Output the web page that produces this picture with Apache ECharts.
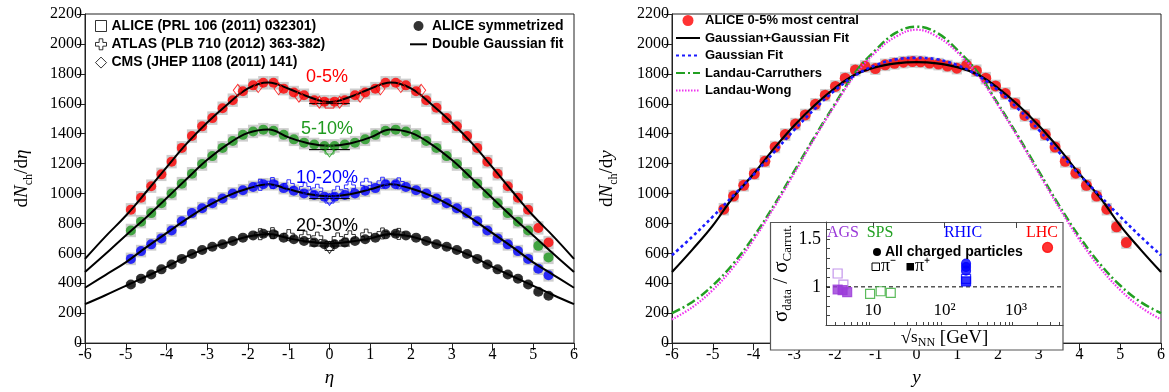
<!DOCTYPE html>
<html><head><meta charset="utf-8">
<script src="https://cdn.jsdelivr.net/npm/echarts@6/dist/echarts.min.js"></script>
<style>html,body{margin:0;padding:0;background:#fff}#c{width:1169px;height:392px}</style>
</head><body><div id="c"></div>
<script>
// ---------------- LEFT PANEL DATA: dNch/deta ----------------
const etaSym = [-4.875,-4.625,-4.375,-4.125,-3.875,-3.625,-3.375,-3.125,-2.875,-2.625,-2.375,-2.125,-1.875,-1.625,-1.375,-1.125,-0.875,-0.625,-0.375,-0.125,
  0.125,0.375,0.625,0.875,1.125,1.375,1.625,1.875,2.125,2.375,2.625,2.875,3.125,3.375,3.625,3.875,4.125,4.375,4.625,4.875,5.125,5.375];
const sym0_5 = [891,972,1049,1128,1213,1305,1384,1449,1504,1570,1624,1683,1723,1740,1740,1701,1675,1657,1624,1614,
  1614,1624,1657,1675,1701,1740,1740,1723,1683,1624,1574,1504,1449,1384,1305,1213,1132,1049,972,891,770,672];
const sym5_10 = [753,812,869,935,1000,1066,1132,1197,1250,1305,1351,1392,1415,1427,1420,1392,1362,1340,1328,1318,
  1318,1328,1340,1362,1392,1420,1427,1415,1392,1351,1305,1250,1197,1132,1066,1000,935,869,812,753,650,573];
const sym10_20 = [563,615,660,700,753,814,869,902,935,967,1000,1022,1044,1062,1062,1036,1018,1000,990,979,
  979,990,1000,1018,1036,1062,1062,1044,1022,1000,967,935,902,869,814,753,700,660,615,563,497,453];
const sym20_30 = [392,431,458,493,525,563,596,622,644,661,683,705,720,731,727,705,694,683,672,661,
  661,672,683,694,705,727,731,720,705,683,661,644,622,596,563,525,493,458,431,392,343,317];

const fitEta = [-6,-5.5,-5,-4.5,-4,-3.5,-3,-2.5,-2,-1.5,-1,-0.5,0,0.5,1,1.5,2,2.5,3,3.5,4,4.5,5,5.5,6];
const fit0_5 = [563,712,851,1010,1175,1335,1475,1597,1703,1742,1700,1645,1612,1645,1700,1742,1703,1597,1475,1335,1175,1010,851,712,563];
const fit5_10 = [475,595,720,840,968,1099,1225,1329,1405,1428,1375,1335,1320,1335,1375,1428,1405,1329,1225,1099,968,840,720,595,475];
const fit10_20 = [370,455,540,640,735,830,915,984,1033,1062,1028,995,982,995,1028,1062,1033,984,915,830,735,640,540,455,370];
const fit20_30 = [260,320,383,445,509,580,633,672,712,729,700,678,665,678,700,729,712,672,633,580,509,445,383,320,260];

// ALICE PRL 106 (|eta|<0.5)
const alicePrlEta = [0, 0, 0, 0];
const alicePrlVal = [1601, 1294, 966, 649];
const alicePrlHalfBin = 0.5;
// CMS 0-5% and central points
const cmsEta0_5 = [-2.25,-1.75,-1.25,-0.75,-0.25,0.25,0.75,1.25,1.75,2.25];
const cmsVal0_5 = [1690,1715,1700,1650,1610,1610,1650,1700,1715,1690];
const cmsEtaC = [0, 0, 0];
const cmsValC = [1285, 960, 640];
// ATLAS
const atlasEta = [-1.7,-1.4,-1.0,-0.6,-0.3,0.2,0.5,0.9,1.3,1.7];
const atlas10_20 = [1058,1070,1055,1035,1025,1012,1045,1065,1072,1068];
const atlas20_30 = [728,735,722,712,705,700,714,725,733,730];
const sysErrLeft = [45, 45, 42, 18];
const binW = 0.25;

// ---------------- RIGHT PANEL DATA: dNch/dy ----------------
const yRap = [-4.73,-4.49,-4.24,-3.98,-3.72,-3.47,-3.22,-2.97,-2.73,-2.48,-2.24,-1.99,-1.75,-1.50,-1.26,-1.01,-0.77,-0.54,-0.32,-0.10,
  0.10,0.32,0.54,0.76,0.99,1.23,1.47,1.70,1.94,2.18,2.42,2.66,2.91,3.16,3.40,3.65,3.91,4.17,4.42,4.67,4.91,5.15];
const dndy = [895,983,1055,1132,1215,1311,1394,1464,1525,1596,1657,1716,1771,1825,1850,1835,1860,1870,1878,1882,
  1880,1872,1865,1852,1838,1858,1821,1771,1719,1668,1602,1522,1464,1394,1311,1215,1136,1055,983,895,777,672];
const sysErrRight = 42;
const fitY = [-6,-5.5,-5,-4.5,-4,-3.5,-3,-2.5,-2,-1.5,-1,-0.5,0,0.5,1,1.5,2,2.5,3,3.5,4,4.5,5,5.5,6];
const fitGG = [475,625,785,975,1130,1300,1455,1590,1705,1795,1845,1870,1878,1870,1845,1795,1705,1590,1455,1300,1130,975,785,625,475];
const fitG = [587,712,845,985,1125,1275,1425,1565,1690,1790,1858,1897,1907,1897,1858,1790,1690,1565,1425,1275,1125,985,845,712,587];
const fitLC = [200,275,385,530,710,920,1150,1380,1600,1810,1960,2075,2115,2075,1960,1810,1600,1380,1150,920,710,530,385,275,200];
const fitLW = [158,240,355,505,690,905,1135,1370,1590,1795,1945,2050,2095,2050,1945,1795,1590,1370,1135,905,690,505,355,240,158];

// ---------------- INSET DATA: sigma_data / sigma_Carruthers ----------------
const agsPimE = [3.2, 3.85];      const agsPimR = [1.14, 1.024];
const agsPipE = [3.2, 3.75, 4.35]; const agsPipR = [0.972, 0.965, 0.944];
const spsPimE = [9.1, 12.8, 17.7]; const spsPimR = [0.927, 0.954, 0.937];
const rhicChE = [200, 200, 200];   const rhicChR = [1.243, 1.208, 1.17];
const rhicPimE = [200];            const rhicPimR = [1.083];
const rhicPipE = [200];            const rhicPipR = [1.058];
const lhcChE = [2760];             const lhcChR = [1.413];
const insetEMin = 2.2, insetEMax = 4540;
const insetMajor = [10, 100, 1000];
const insetMinor = [3,4,5,6,7,8,9,20,30,40,50,60,70,80,90,200,300,400,500,600,700,800,900,2000,3000,4000];
const insetYTicks = [0.7,0.8,0.9,1.0,1.1,1.2,1.3,1.4,1.5,1.6];

// ---------------- helpers ----------------
const SERIF = 'Liberation Serif', SANS = 'Liberation Sans';
const RED = '#ff0000', GREEN = '#1f9a1f', BLUE = '#0000ff', BLACK = '#000000', GRAY = '#cdcdcd';
const PURPLE = '#9a3ad8', PURPLE_L = '#b47ae6';
const pts = (xs, ys) => xs.map((x, i) => [x, ys[i]]);
const lg = v => Math.log10(v);
const lpts = (es, rs) => es.map((e, i) => [lg(e), rs[i]]);
const CROSS = 'path://M4,0H8V4H12V8H8V12H4V8H0V4H4Z';

function renderBox(params, api) {
  const x = api.value(0), y = api.value(1), e = api.value(2), w = api.value(3);
  const p1 = api.coord([x - w / 2, y + e]);
  const p2 = api.coord([x + w / 2, y - e]);
  return { type: 'rect', shape: { x: p1[0], y: p1[1], width: p2[0] - p1[0], height: p2[1] - p1[1] }, style: { fill: GRAY } };
}
function renderHBar(params, api) {
  const x = api.value(0), y = api.value(1), w = api.value(2);
  const p1 = api.coord([x - w, y]), p2 = api.coord([x + w, y]);
  return { type: 'line', shape: { x1: p1[0], y1: p1[1], x2: p2[0], y2: p2[1] }, style: { stroke: '#000', lineWidth: 1 } };
}
function boxSeries(name, xi, xs, ys, err, w) {
  return { name, type: 'custom', xAxisIndex: xi, yAxisIndex: xi, z: 1, silent: true,
    dimensions: ['x', 'y', 'e', 'w'], encode: { x: 0, y: 1 },
    renderItem: renderBox, data: xs.map((x, i) => [x, ys[i], err, w]) };
}
function symScatter(name, ys, color) {
  return { name, type: 'scatter', xAxisIndex: 0, yAxisIndex: 0, z: 3, symbol: 'circle', symbolSize: 10,
    itemStyle: { color }, data: pts(etaSym, ys) };
}
function fitLine(name, xi, xs, ys, color, width, type) {
  return { name, type: 'line', xAxisIndex: xi, yAxisIndex: xi, z: 4, smooth: 0.4, symbol: 'none',
    lineStyle: { color, width, type }, itemStyle: { color }, data: pts(xs, ys) };
}
function openScatter(name, xs, ys, color, symbol, size) {
  return { name, type: 'scatter', xAxisIndex: 0, yAxisIndex: 0, z: 5, symbol, symbolSize: size,
    itemStyle: { color: 'rgba(255,255,255,0)', borderColor: color, borderWidth: 1 }, data: pts(xs, ys) };
}
function insetScatter(name, es, rs, symbol, size, fill, border) {
  return { name, type: 'scatter', xAxisIndex: 2, yAxisIndex: 2, z: 30, symbol, symbolSize: size,
    itemStyle: { color: fill, borderColor: border, borderWidth: 1.2 }, data: lpts(es, rs) };
}

const tickLab = { fontFamily: SERIF, fontSize: 16, color: '#000', formatter: v => String(v) };
const axisLine = { show: true, onZero: false, lineStyle: { color: '#222', width: 1 } };
function mainX(gi, nm) {
  return { type: 'value', gridIndex: gi, min: -6, max: 6, interval: 1,
    axisLine, axisTick: { show: true, inside: false, length: 7, lineStyle: { color: '#222' } },
    axisLabel: { ...tickLab, margin: 4 }, splitLine: { show: false },
    name: nm, nameLocation: 'middle', nameGap: 21,
    nameTextStyle: { fontFamily: SERIF, fontStyle: 'italic', fontSize: 19, color: '#000' } };
}
function mainY(gi, nm, gap) {
  return { type: 'value', gridIndex: gi, min: 0, max: 2200, interval: 200,
    axisLine, axisTick: { show: true, inside: false, length: 8, lineStyle: { color: '#222' } },
    axisLabel: { ...tickLab, margin: 3 }, splitLine: { show: false },
    name: nm, nameLocation: 'middle', nameRotate: 90, nameGap: gap,
    nameTextStyle: { color: '#000', rich: {
      r: { fontFamily: SERIF, fontSize: 19, lineHeight: 26 },
      i: { fontFamily: SERIF, fontSize: 19, fontStyle: 'italic', lineHeight: 26 },
      s: { fontFamily: SERIF, fontSize: 12, lineHeight: 14, verticalAlign: 'bottom' } } } };
}

const legendText = (fs, lh) => ({ fontFamily: SANS, fontWeight: 'bold', fontSize: fs, lineHeight: lh, color: '#000' });
const openLegendStyle = { color: '#fff', borderColor: '#000', borderWidth: 1 };
const lineOnly = { opacity: 0 };

const option = {
  backgroundColor: '#fff',
  animation: false,
  grid: [
    { left: 85, top: 14, width: 489, height: 336, show: true, borderColor: '#222', borderWidth: 1, backgroundColor: 'transparent' },
    { left: 672, top: 14, width: 489, height: 336, show: true, borderColor: '#222', borderWidth: 1, backgroundColor: 'transparent' },
    { left: 826, top: 222, width: 237, height: 103, show: false, z: 20 }
  ],
  xAxis: [
    mainX(0, 'η'),
    mainX(1, 'y'),
    { type: 'value', gridIndex: 2, min: lg(insetEMin), max: lg(insetEMax), z: 20,
      axisLine: { show: true, onZero: false, lineStyle: { color: '#444', width: 1 } },
      axisTick: { show: true, inside: true, length: 3, customValues: insetMinor.map(lg), lineStyle: { color: '#444' } },
      axisLabel: { inside: true, margin: 6, fontFamily: SERIF, fontSize: 17, color: '#000',
        customValues: insetMajor.map(lg),
        formatter: v => ({ 1: '10', 2: '10²', 3: '10³' })[Math.round(v)] },
      splitLine: { show: false },
      name: '{r|√}{o|s}{s|NN}{r| [GeV]}', nameLocation: 'middle', nameGap: 2,
      nameTextStyle: { color: '#000', rich: {
        r: { fontFamily: SERIF, fontSize: 19, lineHeight: 22 },
        o: { fontFamily: SERIF, fontSize: 17, lineHeight: 22 },
        s: { fontFamily: SERIF, fontSize: 12, lineHeight: 12, verticalAlign: 'bottom' } } } },
    { type: 'value', gridIndex: 2, min: lg(insetEMin), max: lg(insetEMax), z: 20,
      axisLine: { show: false, onZero: false },
      axisTick: { show: true, inside: true, length: 6, customValues: insetMajor.map(lg), lineStyle: { color: '#444' } },
      axisLabel: { show: false }, splitLine: { show: false } }
  ],
  yAxis: [
    mainY(0, '{r|d}{i|N}{s|ch}{r|/d}{i|η}', 50),
    mainY(1, '{r|d}{i|N}{s|ch}{r|/d}{i|y}', 52),
    { type: 'value', gridIndex: 2, min: 0.6, max: 1.68, z: 20,
      axisLine: { show: true, onZero: false, lineStyle: { color: '#444', width: 1 } },
      axisTick: { show: true, inside: true, length: 4, customValues: insetYTicks, lineStyle: { color: '#444' } },
      axisLabel: { fontFamily: SERIF, fontSize: 18, color: '#000', margin: 5, customValues: [1, 1.5], formatter: v => String(v) },
      splitLine: { show: false },
      name: '{g|σ}{s|data}{g| / σ}{s|Carrut.}', nameLocation: 'middle', nameRotate: 90, nameGap: 32,
      nameTextStyle: { color: '#000', rich: {
        g: { fontFamily: SERIF, fontSize: 21, lineHeight: 26 },
        s: { fontFamily: SERIF, fontSize: 13, lineHeight: 14, verticalAlign: 'bottom' } } } }
  ],
  legend: [
    { orient: 'vertical', left: 95, top: 18, padding: 0, itemGap: 2.3, itemWidth: 11, itemHeight: 11,
      selectedMode: false, textStyle: legendText(14, 16),
      data: [
        { name: 'ALICE (PRL 106 (2011) 032301)', icon: 'rect', itemStyle: openLegendStyle },
        { name: 'ATLAS (PLB 710 (2012) 363-382)', icon: CROSS, itemStyle: openLegendStyle },
        { name: 'CMS (JHEP 1108 (2011) 141)', icon: 'diamond', itemStyle: openLegendStyle }
      ] },
    { orient: 'vertical', left: 409, top: 18, padding: 0, itemGap: 2.3, itemWidth: 17, itemHeight: 10,
      selectedMode: false, textStyle: legendText(14, 16),
      data: ['ALICE symmetrized', { name: 'Double Gaussian fit', itemStyle: lineOnly }] },
    { orient: 'vertical', left: 675, top: 13, padding: 0, itemGap: 2.5, itemWidth: 24, itemHeight: 11,
      selectedMode: false, textStyle: legendText(13, 15),
      data: ['ALICE 0-5% most central',
        { name: 'Gaussian+Gaussian Fit', itemStyle: lineOnly },
        { name: 'Gaussian Fit', itemStyle: lineOnly },
        { name: 'Landau-Carruthers', itemStyle: lineOnly },
        { name: 'Landau-Wong', itemStyle: lineOnly }] }
  ],
  series: [
    // legend-only entries (left panel)
    { name: 'ALICE (PRL 106 (2011) 032301)', type: 'scatter', symbol: 'rect', itemStyle: openLegendStyle, data: [] },
    { name: 'ATLAS (PLB 710 (2012) 363-382)', type: 'scatter', symbol: CROSS, itemStyle: openLegendStyle, data: [] },
    { name: 'CMS (JHEP 1108 (2011) 141)', type: 'scatter', symbol: 'diamond', itemStyle: openLegendStyle, data: [] },
    { name: 'ALICE symmetrized', type: 'scatter', symbol: 'circle', itemStyle: { color: BLACK }, data: [] },
    { name: 'Double Gaussian fit', type: 'line', symbol: 'none', lineStyle: { color: BLACK, width: 2 }, itemStyle: { color: BLACK }, data: [] },

    // left panel systematic boxes
    boxSeries('sys 0-5', 0, etaSym, sym0_5, sysErrLeft[0], binW),
    boxSeries('sys 5-10', 0, etaSym, sym5_10, sysErrLeft[1], binW),
    boxSeries('sys 10-20', 0, etaSym, sym10_20, sysErrLeft[2], binW),
    boxSeries('sys 20-30', 0, etaSym, sym20_30, sysErrLeft[3], binW),
    // left panel data
    symScatter('sym 0-5', sym0_5, RED),
    symScatter('sym 5-10', sym5_10, GREEN),
    symScatter('sym 10-20', sym10_20, BLUE),
    symScatter('sym 20-30', sym20_30, BLACK),
    fitLine('fit 0-5', 0, fitEta, fit0_5, BLACK, 2, 'solid'),
    fitLine('fit 5-10', 0, fitEta, fit5_10, BLACK, 2, 'solid'),
    fitLine('fit 10-20', 0, fitEta, fit10_20, BLACK, 2, 'solid'),
    fitLine('fit 20-30', 0, fitEta, fit20_30, BLACK, 2, 'solid'),
    openScatter('CMS 0-5', cmsEta0_5, cmsVal0_5, RED, 'diamond', [9, 12]),
    openScatter('CMS 5-10', [cmsEtaC[0]], [cmsValC[0]], GREEN, 'diamond', [9, 12]),
    openScatter('CMS 10-20', [cmsEtaC[1]], [cmsValC[1]], BLUE, 'diamond', [9, 12]),
    openScatter('CMS 20-30', [cmsEtaC[2]], [cmsValC[2]], BLACK, 'diamond', [9, 12]),
    openScatter('ATLAS 10-20', atlasEta, atlas10_20, BLUE, CROSS, 11),
    openScatter('ATLAS 20-30', atlasEta, atlas20_30, BLACK, CROSS, 11),
    { name: 'ALICE PRL bars', type: 'custom', xAxisIndex: 0, yAxisIndex: 0, z: 5, silent: true,
      dimensions: ['x', 'y', 'w'], encode: { x: 0, y: 1 }, renderItem: renderHBar,
      data: alicePrlEta.map((x, i) => [x, alicePrlVal[i], alicePrlHalfBin]) },
    openScatter('ALICE PRL 0-5', [alicePrlEta[0]], [alicePrlVal[0]], RED, 'rect', 9),
    openScatter('ALICE PRL 5-10', [alicePrlEta[1]], [alicePrlVal[1]], GREEN, 'rect', 9),
    openScatter('ALICE PRL 10-20', [alicePrlEta[2]], [alicePrlVal[2]], BLUE, 'rect', 9),
    openScatter('ALICE PRL 20-30', [alicePrlEta[3]], [alicePrlVal[3]], BLACK, 'rect', 9),

    // right panel
    boxSeries('sys dndy', 1, yRap, dndy, sysErrRight, binW),
    { name: 'ALICE 0-5% most central', type: 'scatter', xAxisIndex: 1, yAxisIndex: 1, z: 3, symbol: 'circle', symbolSize: 11,
      itemStyle: { color: RED }, data: pts(yRap, dndy) },
    fitLine('Landau-Carruthers', 1, fitY, fitLC, '#22a022', 2.5, [9, 3, 2, 3]),
    fitLine('Landau-Wong', 1, fitY, fitLW, '#ee33ee', 2.2, [1.5, 1.5]),
    fitLine('Gaussian+Gaussian Fit', 1, fitY, fitGG, BLACK, 2.2, 'solid'),
    fitLine('Gaussian Fit', 1, fitY, fitG, '#1a1aff', 2.6, [3, 3]),

    // inset
    { name: 'ratio one', type: 'line', xAxisIndex: 2, yAxisIndex: 2, z: 25, symbol: 'none',
      lineStyle: { color: '#000', width: 1, type: [4, 3] }, data: [[lg(insetEMin), 1], [lg(insetEMax), 1]] },
    insetScatter('AGS pi-', agsPimE, agsPimR, 'rect', 9, '#fff', PURPLE_L),
    insetScatter('AGS pi+', agsPipE, agsPipR, 'rect', 9, PURPLE, PURPLE),
    insetScatter('SPS pi-', spsPimE, spsPimR, 'rect', 9, '#fff', '#33aa33'),
    insetScatter('RHIC pi-', rhicPimE, rhicPimR, 'rect', 9, '#fff', BLUE),
    insetScatter('RHIC pi+', rhicPipE, rhicPipR, 'rect', 9, BLUE, BLUE),
    insetScatter('RHIC ch', rhicChE, rhicChR, 'circle', 9, BLUE, BLUE),
    insetScatter('LHC ch', lhcChE, lhcChR, 'circle', 10, RED, RED)
  ],
  graphic: { elements: [
    { type: 'text', z: 10, style: { text: '0-5%', x: 327, y: 77, align: 'center', verticalAlign: 'middle', fill: RED, font: '18px "Liberation Sans"' } },
    { type: 'text', z: 10, style: { text: '5-10%', x: 327, y: 129, align: 'center', verticalAlign: 'middle', fill: GREEN, font: '18px "Liberation Sans"' } },
    { type: 'text', z: 10, style: { text: '10-20%', x: 327, y: 178, align: 'center', verticalAlign: 'middle', fill: BLUE, font: '18px "Liberation Sans"' } },
    { type: 'text', z: 10, style: { text: '20-30%', x: 327, y: 226, align: 'center', verticalAlign: 'middle', fill: BLACK, font: '18px "Liberation Sans"' } },
    // inset frame
    { type: 'rect', z: 10, shape: { x: 770.5, y: 222.5, width: 292.5, height: 127.5 }, style: { fill: '#fff', stroke: '#555', lineWidth: 1.2 } },
    { type: 'text', z: 40, style: { text: 'AGS', x: 843, y: 233, align: 'center', verticalAlign: 'middle', fill: PURPLE, font: '16px "Liberation Serif"' } },
    { type: 'text', z: 40, style: { text: 'SPS', x: 880, y: 233, align: 'center', verticalAlign: 'middle', fill: '#22a022', font: '16px "Liberation Serif"' } },
    { type: 'text', z: 40, style: { text: 'RHIC', x: 963, y: 233, align: 'center', verticalAlign: 'middle', fill: BLUE, font: '16px "Liberation Serif"' } },
    { type: 'text', z: 40, style: { text: 'LHC', x: 1042, y: 233, align: 'center', verticalAlign: 'middle', fill: RED, font: '16px "Liberation Serif"' } },
    { type: 'circle', z: 40, shape: { cx: 877, cy: 252, r: 4 }, style: { fill: '#000' } },
    { type: 'text', z: 40, style: { text: 'All charged particles', x: 885, y: 252, align: 'left', verticalAlign: 'middle', fill: '#000', font: 'bold 14px "Liberation Sans"' } },
    { type: 'rect', z: 40, shape: { x: 872, y: 263, width: 7.5, height: 7.5 }, style: { fill: '#fff', stroke: '#000', lineWidth: 1 } },
    { type: 'text', z: 40, style: { text: 'π⁻', x: 881, y: 266, align: 'left', verticalAlign: 'middle', fill: '#000', font: '18px "Liberation Serif"' } },
    { type: 'rect', z: 40, shape: { x: 906.5, y: 263, width: 7.5, height: 7.5 }, style: { fill: '#000' } },
    { type: 'text', z: 40, style: { text: 'π⁺', x: 915, y: 266, align: 'left', verticalAlign: 'middle', fill: '#000', font: '18px "Liberation Serif"' } }
  ] }
};

const chart = echarts.init(document.getElementById('c'), null, { renderer: 'canvas' });
chart.setOption(option);
</script></body></html>
